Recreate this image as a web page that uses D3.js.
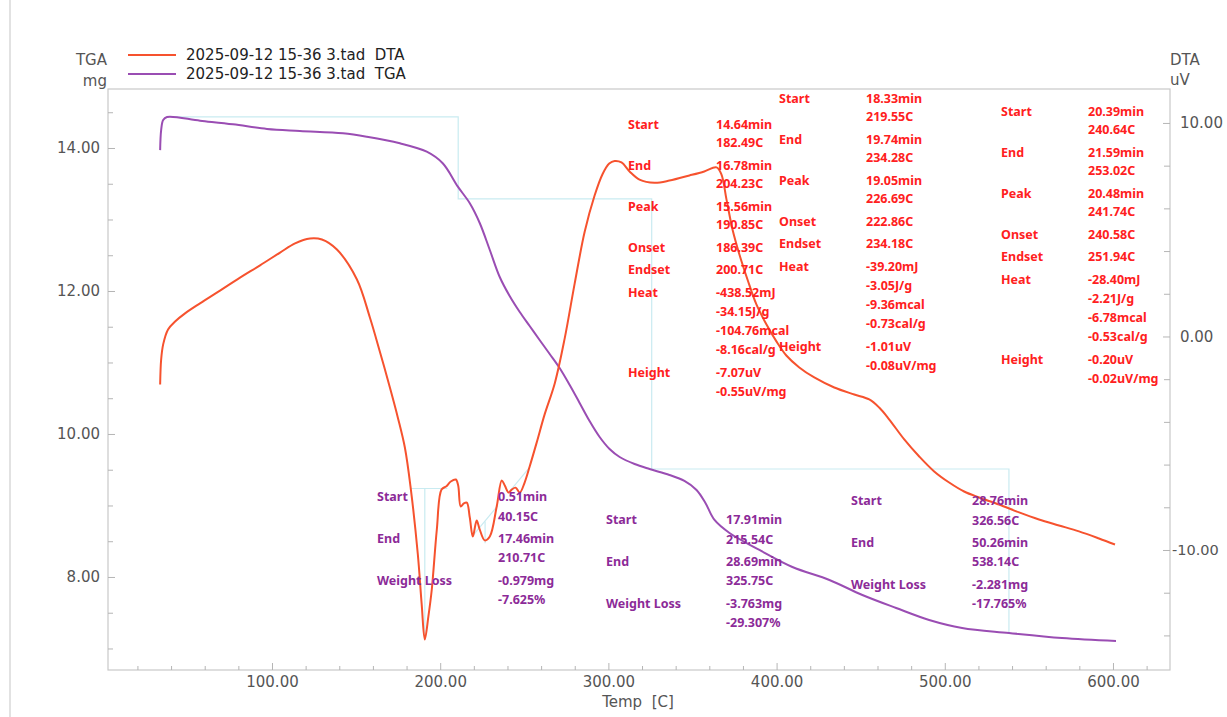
<!DOCTYPE html>
<html>
<head>
<meta charset="utf-8">
<script src="https://cdn.jsdelivr.net/npm/d3@7"></script>
<style>
  body { margin: 0; background: #fff; }
  svg { display: block; }
  text { font-family: "DejaVu Sans", sans-serif; }
  .note { font-family: "Noto Sans", "DejaVu Sans", sans-serif; }
</style>
</head>
<body>
<svg id="chart" width="1227" height="717"></svg>
<script>
// ---- Series data: temperature (C) vs signal ----
const dtaTemp = [33.5, 34.1, 35.3, 38.2, 42.4, 48.3, 57.2, 69.1, 81.0, 92.9, 104.8, 113.7, 122.6, 129.7, 138.6, 150.5, 158.2, 164.1, 170.1, 174.8, 179.0, 182.5, 186.7, 189.0, 190.85, 193.0, 195.0, 198.0, 200.8, 203.7, 206.3, 209.3, 210.7, 212.2, 214.0, 215.8, 217.6, 219.4, 221.7, 223.5, 226.5, 229.5, 233.6, 236.6, 238.4, 240.7, 242.5, 244.9, 247.3, 250.2, 253.2, 257.4, 262.1, 268.1, 274.0, 280.0, 285.9, 291.8, 296.5, 300.5, 303.7, 307.8, 312.6, 318.5, 327.4, 336.3, 348.2, 357.0, 364.3, 367.2, 370.2, 373.8, 377.9, 382.7, 388.0, 394.0, 399.9, 405.8, 413.5, 422.4, 434.3, 446.2, 455.1, 461.0, 467.0, 475.9, 484.8, 493.7, 502.6, 511.5, 520.4, 532.3, 544.2, 556.0, 567.9, 579.8, 591.7, 601.2];
const dtaValue = [-2.25, -1.08, -0.37, 0.33, 0.70, 1.08, 1.55, 2.15, 2.76, 3.33, 3.93, 4.36, 4.59, 4.54, 4.07, 2.67, 0.89, -0.70, -2.39, -3.79, -5.20, -7.12, -10.20, -12.55, -14.19, -13.10, -11.85, -9.04, -7.17, -7.01, -6.79, -6.70, -6.98, -7.96, -7.82, -7.78, -8.48, -9.37, -8.62, -9.04, -9.55, -9.37, -7.96, -6.74, -6.98, -7.31, -7.17, -7.08, -7.31, -6.84, -6.09, -4.96, -3.65, -2.20, -0.10, 2.50, 4.90, 6.60, 7.60, 8.10, 8.22, 8.15, 7.73, 7.35, 7.20, 7.30, 7.54, 7.73, 7.92, 7.59, 6.42, 5.01, 3.84, 2.67, 1.50, 0.56, -0.23, -0.89, -1.45, -1.92, -2.39, -2.72, -2.95, -3.33, -3.89, -4.82, -5.62, -6.32, -6.84, -7.26, -7.54, -7.87, -8.24, -8.57, -8.85, -9.13, -9.46, -9.74];

const tgaTemp = [33.5, 34.1, 35.3, 37.6, 57.2, 76.8, 97.0, 116.6, 142.2, 156.4, 176.0, 192.0, 201.5, 210.5, 217.6, 223.5, 229.5, 235.4, 241.3, 247.3, 253.2, 259.1, 265.1, 271.0, 277.0, 282.9, 288.8, 294.8, 300.7, 306.7, 315.6, 324.5, 336.3, 345.2, 352.4, 357.7, 363.1, 372.0, 389.8, 409.4, 431.4, 451.0, 471.1, 490.7, 510.3, 538.2, 569.7, 601.8];
const tgaValue = [13.97, 14.25, 14.39, 14.434, 14.382, 14.331, 14.266, 14.238, 14.206, 14.158, 14.066, 13.948, 13.786, 13.459, 13.227, 12.951, 12.573, 12.196, 11.930, 11.706, 11.510, 11.315, 11.119, 10.923, 10.685, 10.434, 10.182, 9.958, 9.790, 9.678, 9.580, 9.510, 9.427, 9.343, 9.217, 9.035, 8.797, 8.615, 8.378, 8.140, 7.958, 7.748, 7.566, 7.399, 7.287, 7.217, 7.147, 7.105];

// ---- Axis ticks ----
const xMajorTicks = [100, 200, 300, 400, 500, 600];
const xMinorTicks = [20, 40, 60, 80, 120, 140, 160, 180, 220, 240, 260, 280, 320, 340, 360, 380, 420, 440, 460, 480, 520, 540, 560, 580, 620];
const tgaMajorTicks = [8, 10, 12, 14];
const tgaMinorTicks = [7, 7.5, 8.5, 9, 9.5, 10.5, 11, 11.5, 12.5, 13, 13.5, 14.5];
const dtaMajorTicks = [-10, 0, 10];
const dtaMinorTicks = [-14, -12, -8, -6, -4, -2, 2, 4, 6, 8];

// ---- Legend ----
const legendNames = ["2025-09-12 15-36 3.tad  DTA", "2025-09-12 15-36 3.tad  TGA"];

// ---- TGA step analysis (temperatures and mass levels of the staircase) ----
const tgaStepStart = 40.15;
const tgaStepEnds = [210.71, 325.75, 538.14];
const tgaStepLevels = [14.434, 13.287, 9.51, 7.23];

// ---- DTA peak baselines: [startT, startV, endT, endV], peak [T, baseV, bottomV] ----
const dtaBaselines = [[182.49, -7.12, 204.23, -7.12], [219.55, -9.32, 234.28, -7.92], [240.64, -7.31, 253.02, -6.14]];
const dtaPeakDrops = [[190.85, -7.12, -14.19], [226.69, -8.67, -9.68], [241.74, -7.24, -7.44]];

// ---- Annotation text ----
const dtaLabelRows = ["Start", "End", "Peak", "Onset", "Endset", "Heat", "Height"];
const dtaPeak1 = ["14.64min", "182.49C", "16.78min", "204.23C", "15.56min", "190.85C", "186.39C", "200.71C", "-438.52mJ", "-34.15J/g", "-104.76mcal", "-8.16cal/g", "-7.07uV", "-0.55uV/mg"];
const dtaPeak2 = ["18.33min", "219.55C", "19.74min", "234.28C", "19.05min", "226.69C", "222.86C", "234.18C", "-39.20mJ", "-3.05J/g", "-9.36mcal", "-0.73cal/g", "-1.01uV", "-0.08uV/mg"];
const dtaPeak3 = ["20.39min", "240.64C", "21.59min", "253.02C", "20.48min", "241.74C", "240.58C", "251.94C", "-28.40mJ", "-2.21J/g", "-6.78mcal", "-0.53cal/g", "-0.20uV", "-0.02uV/mg"];
const tgaLabelRows = ["Start", "End", "Weight Loss"];
const tgaStep1 = ["0.51min", "40.15C", "17.46min", "210.71C", "-0.979mg", "-7.625%"];
const tgaStep2 = ["17.91min", "215.54C", "28.69min", "325.75C", "-3.763mg", "-29.307%"];
const tgaStep3 = ["28.76min", "326.56C", "50.26min", "538.14C", "-2.281mg", "-17.765%"];

// ---- Layout ----
const W = 1227, H = 717;
const plot = { left: 108, right: 1170, top: 89, bottom: 670 };
const colors = { dta: "#f6522e", tga: "#9a4db3", dtaText: "#ff2020", tgaText: "#8c2b98",
                 guide: "#c9ebf1", axis: "#c9c9c9", tickText: "#555", legendText: "#222" };
const axisFont = 15;
// fixed two-decimal labels with a plain hyphen for negatives
const fmt2 = v => v.toFixed(2);

const svg = d3.select("#chart");

const x = d3.scaleLinear().domain([2.5, 633.9]).range([plot.left, plot.right]);
const yL = d3.scaleLinear().domain([6.699, 14.825]).range([plot.bottom, plot.top]);
const yR = d3.scaleLinear().domain([-15.62, 11.59]).range([plot.bottom, plot.top]);

// outer frame line
svg.append("line").attr("x1", 10).attr("x2", 10).attr("y1", 0).attr("y2", H)
  .attr("stroke", "#cfcfcf").attr("stroke-width", 1.2);

// plot border
svg.append("rect").attr("x", plot.left).attr("y", plot.top)
  .attr("width", plot.right - plot.left).attr("height", plot.bottom - plot.top)
  .attr("fill", "none").attr("stroke", colors.axis).attr("stroke-width", 1.2);

// bottom axis (ticks pointing into the plot)
const gx = svg.append("g").attr("transform", `translate(0,${plot.bottom})`);
gx.call(d3.axisBottom(x).tickValues(xMinorTicks).tickSize(-4).tickFormat(""));
gx.append("g").call(d3.axisBottom(x).tickValues(xMajorTicks).tickSize(-7).tickPadding(6).tickFormat(fmt2));
gx.selectAll(".domain").remove();
gx.selectAll("line").attr("stroke", "#b5b5b5");
gx.selectAll("text").attr("fill", colors.tickText).attr("font-size", axisFont);

// left TGA axis
const gl = svg.append("g").attr("transform", `translate(${plot.left},0)`);
gl.call(d3.axisLeft(yL).tickValues(tgaMinorTicks).tickSize(-5).tickFormat(""));
gl.append("g").call(d3.axisLeft(yL).tickValues(tgaMajorTicks).tickSize(-7).tickPadding(8).tickFormat(fmt2));
gl.selectAll(".domain").remove();
gl.selectAll("line").attr("stroke", "#b5b5b5");
gl.selectAll("text").attr("fill", colors.tickText).attr("font-size", axisFont);

// right DTA axis
const gr = svg.append("g").attr("transform", `translate(${plot.right},0)`);
gr.call(d3.axisRight(yR).tickValues(dtaMinorTicks).tickSize(-6).tickFormat(""));
gr.append("g").call(d3.axisRight(yR).tickValues(dtaMajorTicks).tickSize(-7).tickPadding(10).tickFormat(fmt2));
gr.selectAll(".domain").remove();
gr.selectAll("line").attr("stroke", "#b5b5b5");
gr.selectAll("text").attr("fill", colors.tickText).attr("font-size", axisFont);
// negative labels start a little further left so they fit inside the page
gr.selectAll(".tick text").filter(d => d < 0).attr("x", 2).attr("font-size", 14.5);

// axis titles
const titleStyle = s => s.attr("fill", colors.tickText).attr("font-size", axisFont).attr("dominant-baseline", "middle");
svg.append("text").attr("x", 107).attr("y", 60).attr("text-anchor", "end").text("TGA").call(titleStyle);
svg.append("text").attr("x", 107).attr("y", 81).attr("text-anchor", "end").text("mg").call(titleStyle);
svg.append("text").attr("x", 1170).attr("y", 60).attr("text-anchor", "start").text("DTA").call(titleStyle);
svg.append("text").attr("x", 1170).attr("y", 80).attr("text-anchor", "start").text("uV").call(titleStyle);
svg.append("text").attr("x", 638).attr("y", 702).attr("text-anchor", "middle").text("Temp  [C]")
  .style("white-space", "pre").call(titleStyle);

// legend
const legendColors = [colors.dta, colors.tga];
legendNames.forEach((name, i) => {
  const y = 55 + i * 19;
  svg.append("line").attr("x1", 128).attr("x2", 176).attr("y1", y).attr("y2", y)
    .attr("stroke", legendColors[i]).attr("stroke-width", 2);
  svg.append("text").attr("x", 186).attr("y", y).attr("dominant-baseline", "middle")
    .attr("font-size", axisFont).attr("fill", colors.legendText).style("white-space", "pre").text(name);
});

// TGA step staircase guides
const stairs = [[tgaStepStart, tgaStepLevels[0]]];
tgaStepEnds.forEach((t, i) => {
  stairs.push([t, tgaStepLevels[i]]);
  stairs.push([t, tgaStepLevels[i + 1]]);
});
svg.append("path").datum(stairs)
  .attr("d", d3.line().x(d => x(d[0])).y(d => yL(d[1])))
  .attr("fill", "none").attr("stroke", colors.guide).attr("stroke-width", 1.2);

// DTA peak baselines and drop lines
const guides = svg.append("g").attr("stroke", colors.guide).attr("stroke-width", 1.2);
dtaBaselines.forEach(b => guides.append("line")
  .attr("x1", x(b[0])).attr("y1", yR(b[1])).attr("x2", x(b[2])).attr("y2", yR(b[3])));
dtaPeakDrops.forEach(p => guides.append("line")
  .attr("x1", x(p[0])).attr("x2", x(p[0])).attr("y1", yR(p[1])).attr("y2", yR(p[2])));

// curves
const tgaPts = tgaTemp.map((t, i) => [t, tgaValue[i]]);
const dtaPts = dtaTemp.map((t, i) => [t, dtaValue[i]]);
svg.append("path").datum(tgaPts)
  .attr("d", d3.line().x(d => x(d[0])).y(d => yL(d[1])).curve(d3.curveCatmullRom.alpha(0.5)))
  .attr("fill", "none").attr("stroke", colors.tga).attr("stroke-width", 2);
svg.append("path").datum(dtaPts)
  .attr("d", d3.line().x(d => x(d[0])).y(d => yR(d[1])).curve(d3.curveCatmullRom.alpha(0.5)))
  .attr("fill", "none").attr("stroke", colors.dta).attr("stroke-width", 2);

// annotation blocks
const dtaLabelOffsets = [0, 41, 82, 123, 145, 168, 248];
const dtaValueOffsets = [0, 18, 41, 59, 82, 100, 123, 145, 168, 187, 206, 225, 248, 267];
const tgaLabelOffsets = [0, 42, 84];
const tgaValueOffsets = [0, 20, 42, 61, 84, 103];

function block(labels, labelOffsets, values, valueOffsets, lx, vx, top, color) {
  const g = svg.append("g").attr("class", "note").attr("fill", color)
    .attr("font-size", 12.5).attr("font-weight", "bold");
  labels.forEach((s, i) => g.append("text").attr("class", "note").attr("x", lx).attr("y", top + labelOffsets[i])
    .attr("dominant-baseline", "middle").text(s));
  values.forEach((s, i) => g.append("text").attr("class", "note").attr("x", vx).attr("y", top + valueOffsets[i])
    .attr("dominant-baseline", "middle").text(s));
}
block(dtaLabelRows, dtaLabelOffsets, dtaPeak1, dtaValueOffsets, 628, 716, 126, colors.dtaText);
block(dtaLabelRows, dtaLabelOffsets, dtaPeak2, dtaValueOffsets, 779, 866, 100, colors.dtaText);
block(dtaLabelRows, dtaLabelOffsets, dtaPeak3, dtaValueOffsets, 1001, 1088, 113, colors.dtaText);
block(tgaLabelRows, tgaLabelOffsets, tgaStep1, tgaValueOffsets, 377, 498, 498, colors.tgaText);
block(tgaLabelRows, tgaLabelOffsets, tgaStep2, tgaValueOffsets, 606, 726, 521, colors.tgaText);
block(tgaLabelRows, tgaLabelOffsets, tgaStep3, tgaValueOffsets, 851, 972, 502, colors.tgaText);
</script>
</body>
</html>
